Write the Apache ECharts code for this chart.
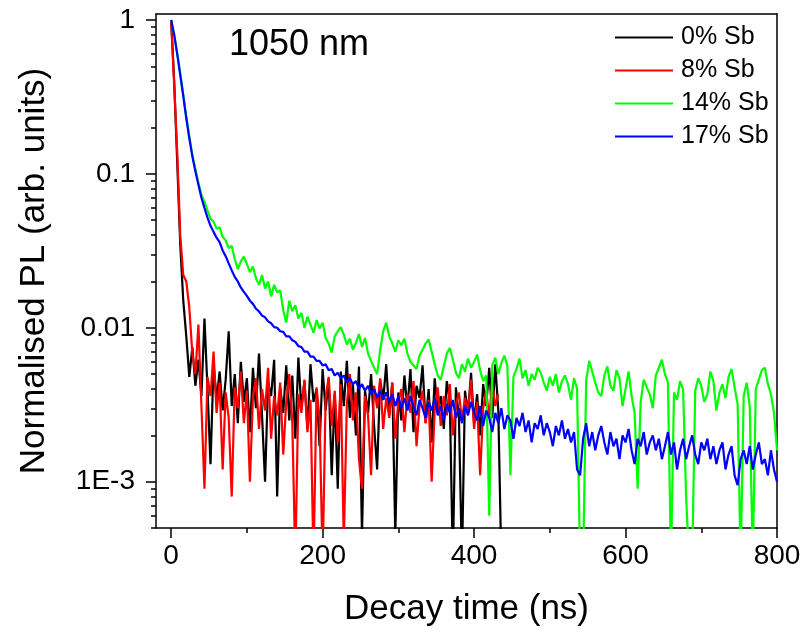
<!DOCTYPE html>
<html><head><meta charset="utf-8">
<script src="https://cdn.jsdelivr.net/npm/echarts@6/dist/echarts.min.js"></script>
<style>html,body{margin:0;padding:0;background:#fff}#c{width:807px;height:639px}</style>
</head><body><div id="c"></div>
<script>
// ---- data ----
const seriesNames = ['0% Sb', '8% Sb', '14% Sb', '17% Sb'];
const seriesColors = ['#000000', '#ff0000', '#00ff00', '#0000ff'];
const timeStep = 4; // ns between samples
const xTickValues = [0, 200, 400, 600, 800];
const yTickValues = [0.001, 0.01, 0.1, 1];
const yTickLabels = ['1E-3', '0.01', '0.1', '1'];
const annotation = '1050 nm';

const sb0 = [
  1, 0.40, 0.12, 0.035, 0.015, 0.0088, 0.0048, 0.0075, 0.0042, 0.0062,
  0.0036, 0.0115, 0.0040, 0.0013, 0.0058, 0.0034, 0.0052, 0.0029, 0.0046, 0.0095,
  0.0031, 0.0050, 0.0024, 0.0060, 0.0033, 0.0047, 0.0021, 0.0055, 0.0030, 0.0068,
  0.0027, 0.0010, 0.0044, 0.0036, 0.0062, 0.0008, 0.0041, 0.0028, 0.0057, 0.0025,
  0.0049, 0.0019, 0.0064, 0.0030, 0.0045, 0.0022, 0.0058, 0.0033, 0.0040, 0.0017,
  0.0054, 0.0029, 0.0047, 0.0011, 0.0037, 0.0009, 0.0052, 0.0031, 0.0061, 0.0026,
  0.0043, 0.0020, 0.0056, 0.00045, 0.0039, 0.0028, 0.0050, 0.0023, 0.0012, 0.0046,
  0.0034, 0.0058, 0.0027, 0.0044, 0.00045, 0.0038, 0.0025, 0.0049, 0.0030, 0.0054,
  0.0021, 0.0042, 0.0035, 0.0057, 0.0024, 0.0040, 0.0018, 0.0047, 0.0029, 0.0036,
  0.0022, 0.0045, 0.0033, 0.0003, 0.0041, 0.0026, 0.0003, 0.0039, 0.0028, 0.0051,
  0.0024, 0.0037, 0.0020, 0.0043, 0.0031, 0.0055, 0.0026, 0.0058, 0.0029, 0.0003
];
const sb8 = [
  1, 0.38, 0.14, 0.040, 0.022, 0.020, 0.0135, 0.0068, 0.0050, 0.0105,
  0.0031, 0.0009, 0.0048, 0.0036, 0.0070, 0.0028, 0.0044, 0.0012, 0.0038, 0.0026,
  0.0008, 0.0041, 0.0030, 0.0052, 0.0024, 0.0039, 0.0010, 0.0035, 0.0047, 0.0022,
  0.0040, 0.0029, 0.0055, 0.0019, 0.0036, 0.0027, 0.0044, 0.0015, 0.0033, 0.0050,
  0.0024, 0.0003, 0.0037, 0.0028, 0.0046, 0.0021, 0.0034, 0.0003, 0.0041, 0.0026,
  0.0003, 0.0035, 0.0048, 0.0023, 0.0039, 0.0018, 0.0043, 0.0004, 0.0032, 0.0050,
  0.0025, 0.0038, 0.0014, 0.0009, 0.0036, 0.0027, 0.0011, 0.0042, 0.0030, 0.0047,
  0.0022, 0.0035, 0.0026, 0.0044, 0.0019, 0.0033, 0.0040, 0.0021, 0.0037, 0.0028,
  0.0045, 0.0017, 0.0031, 0.0039, 0.0024, 0.0034, 0.0010, 0.0029, 0.0041, 0.0023,
  0.0036, 0.0027, 0.0043, 0.0020, 0.0032, 0.0038, 0.0025, 0.0035, 0.0028, 0.0046,
  0.0022, 0.0033, 0.0011, 0.0030, 0.0039, 0.0026, 0.0044, 0.0031, 0.0037
];
const sb14 = [
  1, 0.81, 0.61, 0.45, 0.33, 0.235, 0.175, 0.133, 0.107, 0.088,
  0.073, 0.066, 0.058, 0.051, 0.049, 0.044, 0.045, 0.039, 0.037, 0.033,
  0.034, 0.028, 0.024, 0.027, 0.029, 0.026, 0.023, 0.025, 0.021, 0.019,
  0.022, 0.018, 0.020, 0.016, 0.019, 0.017, 0.0175, 0.013, 0.0108, 0.015,
  0.0128, 0.014, 0.0115, 0.0125, 0.0100, 0.0118, 0.0105, 0.0093, 0.0112, 0.0099,
  0.0108, 0.0086, 0.0079, 0.0069, 0.0088, 0.0095, 0.0101, 0.0090, 0.0078, 0.0085,
  0.0072, 0.0080, 0.0091, 0.0075, 0.0086, 0.0068, 0.0061, 0.0055, 0.0050, 0.0072,
  0.0095, 0.0108, 0.0088, 0.0079, 0.0070, 0.0083, 0.0077, 0.0085, 0.0068, 0.0060,
  0.0057, 0.0054, 0.0066, 0.0072, 0.0079, 0.0084, 0.0070, 0.0058, 0.0049, 0.0046,
  0.0056, 0.0068, 0.0074, 0.0062, 0.0051, 0.0047, 0.0058, 0.0052, 0.0063, 0.0055,
  0.0060, 0.0067, 0.0053, 0.0045, 0.0049, 0.0006, 0.0057, 0.0064, 0.0050, 0.0059,
  0.0066, 0.0056, 0.0011, 0.0048, 0.0054, 0.0063, 0.0047, 0.0053, 0.0042, 0.0050,
  0.0046, 0.0055, 0.0051, 0.0044, 0.0039, 0.0048, 0.0042, 0.0050, 0.0038, 0.0045,
  0.0049, 0.0043, 0.0034, 0.0047, 0.0040, 0.0003, 0.0003, 0.0045, 0.0061, 0.0052,
  0.0044, 0.0038, 0.0036, 0.0049, 0.0056, 0.0042, 0.0039, 0.0053, 0.0047, 0.0031,
  0.0040, 0.0052, 0.0036, 0.0028, 0.0009, 0.0033, 0.0046, 0.0041, 0.0037, 0.0030,
  0.0049, 0.0055, 0.0062, 0.0050, 0.0044, 0.0003, 0.0038, 0.0034, 0.0045, 0.0040,
  0.0008, 0.0003, 0.0003, 0.0039, 0.0047, 0.0042, 0.0033, 0.0037, 0.0052, 0.0045,
  0.0029, 0.0038, 0.0043, 0.0035, 0.0048, 0.0054, 0.0041, 0.0032, 0.0003, 0.0036,
  0.0044, 0.0031, 0.0003, 0.0040, 0.0046, 0.0053, 0.0055, 0.0043, 0.0037, 0.0028,
  0.0016
];
const sb17 = [
  1, 0.80, 0.60, 0.44, 0.32, 0.23, 0.17, 0.13, 0.104, 0.085,
  0.070, 0.060, 0.052, 0.046, 0.042, 0.0385, 0.036, 0.0318, 0.0292, 0.0262,
  0.0236, 0.0214, 0.0200, 0.0183, 0.0171, 0.0161, 0.0150, 0.0143, 0.0133, 0.0128,
  0.0120, 0.0117, 0.0110, 0.0107, 0.0101, 0.0100, 0.0095, 0.0094, 0.0088, 0.0088,
  0.0083, 0.0081, 0.0076, 0.0075, 0.0070, 0.0070, 0.0065, 0.0065, 0.0061, 0.0061,
  0.0057, 0.0058, 0.0053, 0.0054, 0.0049, 0.0051, 0.0047, 0.0049, 0.0044, 0.0047,
  0.0043, 0.0045, 0.0040, 0.0043, 0.0039, 0.0042, 0.0037, 0.0040, 0.0035, 0.0039,
  0.0034, 0.0038, 0.0033, 0.0037, 0.0031, 0.0036, 0.0030, 0.0035, 0.0029, 0.0036,
  0.0031, 0.0027, 0.0034, 0.0030, 0.0026, 0.0033, 0.0029, 0.0035, 0.0027, 0.0031,
  0.0025, 0.0032, 0.0028, 0.0034, 0.0026, 0.0030, 0.0024, 0.0031, 0.0027, 0.0033,
  0.0028, 0.0025, 0.0031, 0.0023, 0.0029, 0.0026, 0.0021, 0.0028, 0.0024, 0.0030,
  0.0022, 0.0027, 0.0025, 0.0019, 0.0026, 0.0023, 0.0028, 0.0021, 0.0025, 0.0018,
  0.0024, 0.0022, 0.0027, 0.0020, 0.0024, 0.0021, 0.0017, 0.0023, 0.0020, 0.0025,
  0.0019, 0.0022, 0.0018, 0.0021, 0.0012, 0.0011, 0.0019, 0.0024, 0.0017, 0.0021,
  0.0016, 0.0020, 0.0023, 0.0018, 0.0015, 0.0021, 0.0017, 0.0019, 0.0014, 0.0020,
  0.0018, 0.0022, 0.0016, 0.0013, 0.0019, 0.0017, 0.0021, 0.0015, 0.0018, 0.0020,
  0.0016, 0.0019, 0.0014, 0.0017, 0.0021, 0.0015, 0.0018, 0.0012, 0.0016, 0.0019,
  0.0014, 0.0017, 0.0020, 0.0015, 0.0013, 0.0018, 0.0016, 0.0019, 0.0014, 0.0017,
  0.0013, 0.0016, 0.0018, 0.0012, 0.0015, 0.0017, 0.0011, 0.00095, 0.0014, 0.0016,
  0.0013, 0.0017, 0.0012, 0.0015, 0.0018, 0.0013, 0.0014, 0.0011, 0.0016, 0.0012,
  0.0010
];
const seriesValues = [sb0, sb8, sb14, sb17];

// ---- chart ----
const FONT = '"Liberation Sans", Arial, Helvetica, sans-serif';
const X_MIN = -20, X_MAX = 800, Y_MIN = 0.0005, Y_MAX = 1.094;
const yMinor = [];
[0.0001, 0.001, 0.01, 0.1].forEach(d => { for (let k = 2; k <= 9; k++) { const v = +(d * k).toPrecision(3); if (v >= Y_MIN && v <= Y_MAX) yMinor.push(v); } });
const xMinor = [100, 300, 500, 700];
const lineCol = '#000';

const chart = echarts.init(document.getElementById('c'), null, { renderer: 'canvas' });
const common = { splitLine: { show: false }, animation: false };
chart.setOption({
  animation: false,
  backgroundColor: '#fff',
  textStyle: { fontFamily: FONT },
  grid: { left: 156, right: 30, top: 14, bottom: 111, containLabel: false },
  xAxis: [
    Object.assign({
      type: 'value', min: X_MIN, max: X_MAX, position: 'bottom',
      name: 'Decay time (ns)', nameLocation: 'middle', nameGap: 64,
      nameTextStyle: { fontSize: 35, color: '#000', fontFamily: FONT },
      axisLine: { show: true, onZero: false, lineStyle: { color: lineCol, width: 1.5 } },
      axisTick: { show: true, customValues: xTickValues, length: 10, lineStyle: { color: lineCol, width: 1.5 } },
      axisLabel: { show: true, customValues: xTickValues, margin: 14, fontSize: 28, color: '#000', fontFamily: FONT }
    }, common),
    Object.assign({
      type: 'value', min: X_MIN, max: X_MAX, position: 'bottom',
      axisLine: { show: false, onZero: false },
      axisTick: { show: true, customValues: xMinor, length: 5, lineStyle: { color: lineCol, width: 1.5 } },
      axisLabel: { show: false }
    }, common),
    Object.assign({
      type: 'value', min: X_MIN, max: X_MAX, position: 'top',
      axisLine: { show: true, onZero: false, lineStyle: { color: lineCol, width: 1.5 } },
      axisTick: { show: false }, axisLabel: { show: false }
    }, common)
  ],
  yAxis: [
    Object.assign({
      type: 'log', min: Y_MIN, max: Y_MAX, position: 'left',
      name: 'Normalised PL (arb. units)', nameLocation: 'middle', nameGap: 104,
      nameTextStyle: { fontSize: 35, color: '#000', fontFamily: FONT },
      axisLine: { show: true, onZero: false, lineStyle: { color: lineCol, width: 1.5 } },
      axisTick: { show: true, customValues: yTickValues, length: 10, lineStyle: { color: lineCol, width: 1.5 } },
      axisLabel: {
        show: true, customValues: yTickValues, margin: 21, fontSize: 28, color: '#000', fontFamily: FONT,
        formatter: v => { const i = yTickValues.findIndex(t => Math.abs(t - v) / t < 1e-6); return i >= 0 ? yTickLabels[i] : ''; }
      }
    }, common),
    Object.assign({
      type: 'log', min: Y_MIN, max: Y_MAX, position: 'left',
      axisLine: { show: false, onZero: false },
      axisTick: { show: true, customValues: yMinor, length: 5, lineStyle: { color: lineCol, width: 1.5 } },
      axisLabel: { show: false }
    }, common),
    Object.assign({
      type: 'log', min: Y_MIN, max: Y_MAX, position: 'right',
      axisLine: { show: true, onZero: false, lineStyle: { color: lineCol, width: 1.5 } },
      axisTick: { show: false }, axisLabel: { show: false }
    }, common)
  ],
  legend: {
    orient: 'vertical', left: 614, top: 25, padding: 0,
    itemWidth: 58, itemHeight: 25, itemGap: 8,
    itemStyle: { opacity: 0 },
    lineStyle: { width: 2 },
    textStyle: { fontSize: 25, color: '#000', fontFamily: FONT, padding: [0, 0, 0, 3] },
    data: seriesNames
  },
  graphic: [{
    type: 'text', left: 229, top: 27,
    style: { text: annotation, fontSize: 36, fill: '#000', fontFamily: FONT }
  }],
  series: seriesNames.map((name, s) => ({
    name, type: 'line', xAxisIndex: 0, yAxisIndex: 0,
    symbol: 'none', clip: true, animation: false,
    lineStyle: { color: seriesColors[s], width: 2.2 },
    itemStyle: { color: seriesColors[s] },
    data: seriesValues[s].map((v, i) => [i * timeStep, v])
  }))
});
</script>
</body></html>
